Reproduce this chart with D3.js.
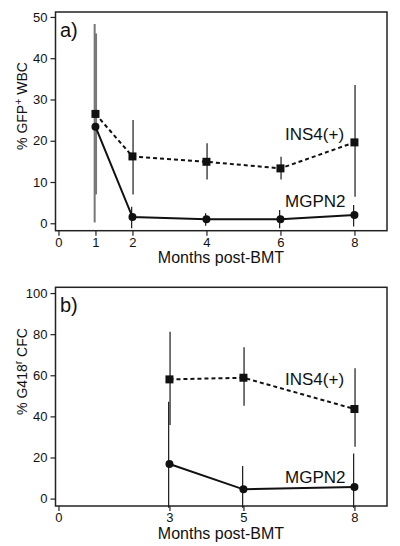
<!DOCTYPE html>
<html>
<head>
<meta charset="utf-8">
<script src="https://cdn.jsdelivr.net/npm/d3@7"></script>
<style>
  html, body { margin: 0; padding: 0; background: #fff; }
  svg { display: block; font-family: "Liberation Sans", Arial, Helvetica, sans-serif; }
</style>
</head>
<body>
<svg id="chart" width="400" height="546"></svg>
<script>
// ---------- Panel a data ----------
const monthsA = [1, 2, 4, 6, 8];
const insA    = [26.5, 16.2, 14.9, 13.3, 19.6];
const insALo  = [7.0, 7.0, 10.6, 10.6, 6.4];
const insAHi  = [46.0, 25.0, 19.4, 16.1, 33.5];
const mgpnA   = [23.4, 1.5, 1.0, 1.0, 2.0];
const mgpnALo = [0.2, -1.2, -0.6, -1.2, -0.8];
const mgpnAHi = [48.3, 4.0, 2.4, 3.2, 4.4];
const xTicksA = [0, 1, 2, 4, 6, 8];
const yTicksA = [0, 10, 20, 30, 40, 50];

// ---------- Panel b data ----------
const monthsB = [3, 5, 8];
const insB    = [58.0, 58.8, 43.6];
const insBLo  = [35.8, 45.2, 25.2];
const insBHi  = [81.2, 73.6, 63.4];
const mgpnB   = [16.8, 4.5, 5.7];
const mgpnBLo = [-4.5, -4.5, -4.5];
const mgpnBHi = [47.1, 15.8, 22.0];
const xTicksB = [0, 3, 5, 8];
const yTicksB = [0, 20, 40, 60, 80, 100];

const seriesNames = ["INS4(+)", "MGPN2"];
const xTitle = "Months post-BMT";

const svg = d3.select("#chart");

function panel(cfg) {
  const g = svg.append("g");
  const x = d3.scaleLinear().domain([-0.08, 8.88]).range([55.5, 387]);
  const y = d3.scaleLinear().domain(cfg.yDomain).range([cfg.bottom, cfg.top]);

  // y axis ticks + labels
  const ya = d3.axisLeft(y).tickValues(cfg.yTicks).tickSize(5).tickPadding(3).tickFormat(d3.format("d"));
  const yg = g.append("g").attr("transform", "translate(55.5,0)").call(ya);
  yg.select(".domain").remove();
  yg.selectAll("line").attr("stroke", "#222").attr("stroke-width", 1.2);
  yg.selectAll("text").attr("font-size", 13).attr("fill", "#111")
    .attr("font-family", "Liberation Sans, Arial, sans-serif");

  // x axis ticks + labels
  const xa = d3.axisBottom(x).tickValues(cfg.xTicks).tickSize(5).tickPadding(2).tickFormat(d3.format("d"));
  const xg = g.append("g").attr("transform", `translate(0,${cfg.bottom})`).call(xa);
  xg.select(".domain").remove();
  xg.selectAll("line").attr("stroke", "#222").attr("stroke-width", 1.2);
  xg.selectAll("text").attr("font-size", 13).attr("fill", "#111")
    .attr("font-family", "Liberation Sans, Arial, sans-serif");

  // frame
  g.append("rect")
    .attr("x", 55.5).attr("y", cfg.top)
    .attr("width", 387 - 55.5).attr("height", cfg.bottom - cfg.top)
    .attr("fill", "none").attr("stroke", "#222").attr("stroke-width", 1.5);

  // error bars
  const bar = (m, lo, hi, dx) => {
    const first = cfg.shadeFirst && m === 1;
    g.append("line")
      .attr("x1", x(m) + dx).attr("x2", x(m) + dx)
      .attr("y1", y(lo)).attr("y2", y(hi))
      .attr("stroke", first ? "#777" : "#1a1a1a")
      .attr("stroke-width", first ? 2 : 1.2);
  };
  cfg.months.forEach((m, i) => bar(m, cfg.mgpnLo[i], cfg.mgpnHi[i], -0.8));
  cfg.months.forEach((m, i) => bar(m, cfg.insLo[i], cfg.insHi[i], 0.6));

  const lineGen = d3.line().x(d => x(d[0])).y(d => y(d[1]));
  const insPts = cfg.months.map((m, i) => [m, cfg.ins[i]]);
  const mgPts  = cfg.months.map((m, i) => [m, cfg.mgpn[i]]);

  g.append("path").attr("d", lineGen(insPts))
    .attr("fill", "none").attr("stroke", "#111").attr("stroke-width", 2)
    .attr("stroke-dasharray", "4,3");
  g.append("path").attr("d", lineGen(mgPts))
    .attr("fill", "none").attr("stroke", "#111").attr("stroke-width", 2);

  g.selectAll(null).data(insPts).enter().append("rect")
    .attr("x", d => x(d[0]) - 4).attr("y", d => y(d[1]) - 4)
    .attr("width", 8).attr("height", 8).attr("fill", "#111");
  g.selectAll(null).data(mgPts).enter().append("circle")
    .attr("cx", d => x(d[0])).attr("cy", d => y(d[1])).attr("r", 4)
    .attr("fill", "#111");

  // series labels
  g.append("text").attr("x", 285).attr("y", cfg.insLabelY)
    .attr("font-size", 17).attr("fill", "#111").text(seriesNames[0]);
  g.append("text").attr("x", 285).attr("y", cfg.mgLabelY)
    .attr("font-size", 17).attr("fill", "#111").text(seriesNames[1]);

  // panel letter
  g.append("text").attr("x", 60).attr("y", cfg.top + 25)
    .attr("font-size", 20).attr("fill", "#111").text(cfg.letter);

  // x title
  g.append("text").attr("x", 221).attr("y", cfg.bottom + 32.5)
    .attr("text-anchor", "middle").attr("font-size", 16).attr("fill", "#111").text(xTitle);

  // y title (rotated) with superscript
  const yt = g.append("text")
    .attr("transform", `translate(27,${cfg.yTitleY}) rotate(-90)`)
    .attr("text-anchor", "middle").attr("font-size", 14).attr("fill", "#111");
  yt.append("tspan").text(cfg.yTitle[0]);
  yt.append("tspan").attr("dy", -5.5).attr("font-size", 10.5).text(cfg.yTitle[1]);
  yt.append("tspan").attr("dy", 5.5).text(cfg.yTitle[2]);
}

panel({
  letter: "a)", top: 12, bottom: 230.7, yDomain: [-1.8, 51.2],
  xTicks: xTicksA, yTicks: yTicksA, months: monthsA,
  ins: insA, insLo: insALo, insHi: insAHi,
  mgpn: mgpnA, mgpnLo: mgpnALo, mgpnHi: mgpnAHi,
  insLabelY: 140, mgLabelY: 206.5, yTitleY: 106,
  yTitle: ["% GFP", "+", " WBC"], shadeFirst: true
});

panel({
  letter: "b)", top: 287.3, bottom: 506, yDomain: [-3.6, 102.8],
  xTicks: xTicksB, yTicks: yTicksB, months: monthsB,
  ins: insB, insLo: insBLo, insHi: insBHi,
  mgpn: mgpnB, mgpnLo: mgpnBLo, mgpnHi: mgpnBHi,
  insLabelY: 385, mgLabelY: 483, yTitleY: 371.5,
  yTitle: ["% G418", "r", " CFC"], shadeFirst: false
});
</script>
</body>
</html>
